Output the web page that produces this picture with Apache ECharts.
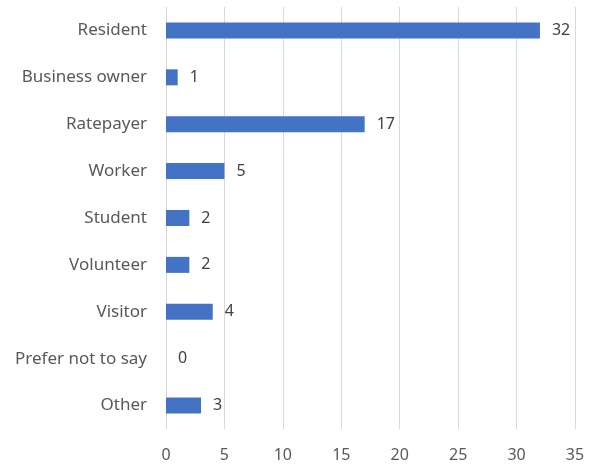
<!DOCTYPE html>
<html><head><meta charset="utf-8">
<script src="https://cdn.jsdelivr.net/npm/echarts@6/dist/echarts.min.js"></script>
<style>html,body{margin:0;padding:0;background:#fff}#c{width:589px;height:465px}</style>
</head><body><div id="c"></div>
<script>
const categories = ["Resident","Business owner","Ratepayer","Worker","Student","Volunteer","Visitor","Prefer not to say","Other"];
const values = [32,1,17,5,2,2,4,0,3];
const xTicks = {min:0,max:35,interval:5};

const chart = echarts.init(document.getElementById('c'));
const font = "'Noto Sans', 'Open Sans', sans-serif";
chart.setOption({
  animation:false,
  grid:{left:166,right:14,top:7,bottom:36,containLabel:false},
  xAxis:{type:'value',min:xTicks.min,max:xTicks.max,interval:xTicks.interval,
    axisLine:{show:false},axisTick:{show:false},
    splitLine:{show:true,lineStyle:{color:'#d9d9d9',width:1}},
    axisLabel:{color:'#595959',fontSize:16,fontFamily:font,margin:18}},
  yAxis:{type:'category',data:categories,inverse:true,
    axisLine:{show:false},axisTick:{show:false},
    axisLabel:{color:'#595959',fontSize:17,fontFamily:font,margin:19}},
  series:[{type:'bar',data:values,barWidth:16,
    itemStyle:{color:'#4472C4'},
    label:{show:true,position:'right',distance:12,color:'#404040',fontSize:16,fontFamily:font}}]
});
</script></body></html>
